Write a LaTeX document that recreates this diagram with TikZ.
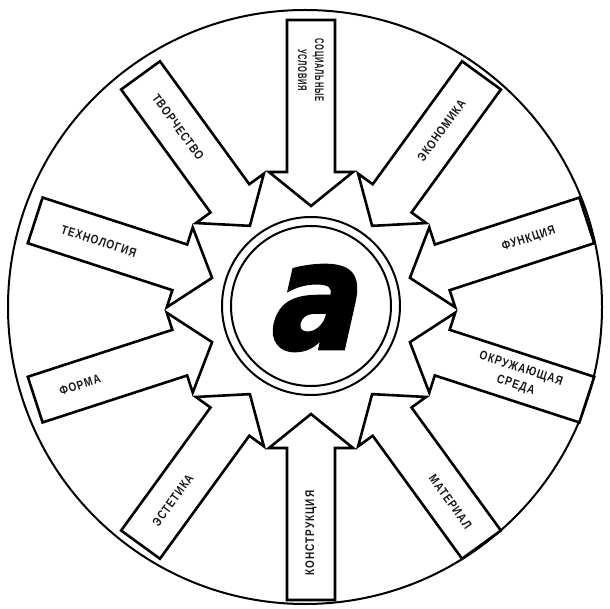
\documentclass[tikz,border=0pt]{standalone}
\usepackage{fontspec}
\newfontfamily\lab{Liberation Sans Bold}[FakeStretch=0.8, LetterSpace=8]
\newfontfamily\bigA{DejaVu Sans Bold}[FakeSlant=0.25, FakeBold=2.5]
\begin{document}
\begin{tikzpicture}[x=1pt,y=1pt,
  arrowbox/.style={draw=black, fill=white, line width=2.6pt, line join=miter},
  ring/.style={draw=black, line width=2pt},
  lbl/.style={font=\lab\fontsize{12.5}{17}\selectfont, align=center, inner sep=0pt, text=black!90}]
\useasboundingbox (0,0) rectangle (610,608);
\fill[white] (0,0) rectangle (610,608);
\coordinate (c) at (311,298);
\coordinate (o) at (305,301);
\coordinate (m) at (311,302);
\draw[ring] (o) circle (297);
\foreach \ang in {90,54,18,-18,-54,-90,-126,-162,162,126} {
  \begin{scope}[shift={(c)}, rotate=\ang]
    \draw[arrowbox] (104,0) -- (138,42) -- (138,24) -- (290,24) -- (290,-24) -- (138,-24) -- (138,-42) -- cycle;
  \end{scope}
}
\draw[ring] (m) circle (89);
\draw[ring] (m) circle (80);
\node[inner sep=0pt, xscale=0.9, font=\bigA\fontsize{148}{148}\selectfont] (a) at (309,300) {a};
\node[lbl, rotate=-90, xscale=0.75] (l1) at ([shift={(90:240)}]c) {СОЦИАЛЬНЫЕ\\УСЛОВИЯ};
\node[lbl, rotate=54] (l2) at ([shift={(54:222)}]c) {ЭКОНОМИКА};
\node[lbl, rotate=18] (l3) at ([shift={(18:229)}]c) {ФУНКЦИЯ};
\node[lbl, rotate=-18] (l4) at ([shift={(-18:218)}]c) {ОКРУЖАЮЩАЯ\\СРЕДА};
\node[lbl, rotate=-54] (l5) at ([shift={(-54:237)}]c) {МАТЕРИАЛ};
\node[lbl, rotate=90] (l6) at ([shift={(-90:223)}]c) {КОНСТРУКЦИЯ};
\node[lbl, rotate=54] (l7) at ([shift={(-126:235)}]c) {ЭСТЕТИКА};
\node[lbl, rotate=18] (l8) at ([shift={(-162:243)}]c) {ФОРМА};
\node[lbl, rotate=-18] (l9) at ([shift={(162:223)}]c) {ТЕХНОЛОГИЯ};
\node[lbl, rotate=-54] (l10) at ([shift={(126:226)}]c) {ТВОРЧЕСТВО};
\end{tikzpicture}
\end{document}
